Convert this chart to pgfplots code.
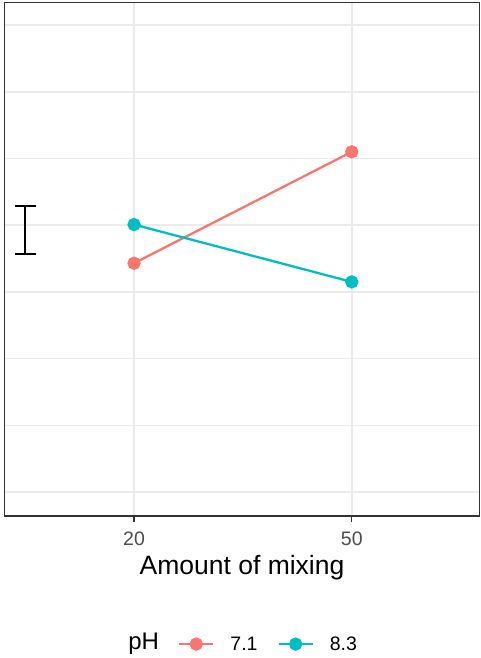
\documentclass[border=0pt]{standalone}
\usepackage{pgfplots}
\pgfplotsset{compat=1.18}
\usepackage{fontspec}
\setmainfont{Liberation Sans}
\definecolor{cred}{HTML}{F8766D}
\definecolor{cteal}{HTML}{00BFC4}
\definecolor{gridc}{HTML}{EBEBEB}
\definecolor{borderc}{HTML}{333333}
\definecolor{tickc}{HTML}{4D4D4D}
\begin{document}
\begin{tikzpicture}
\useasboundingbox (-4.5pt,-142pt) rectangle (476.5pt,516pt);
\begin{axis}[
  at={(0pt,0pt)}, anchor=south west,
  scale only axis, width=475pt, height=513.3pt,
  xmin=2.15, xmax=67.6, ymin=-0.36, ymax=7.336,
  axis line style={draw=borderc, line width=1.1pt},
  xtick={20,50}, ytick={0,1,2,3,4,5,6,7}, yticklabels={},
  tick align=outside, xtick pos=bottom, ytick pos=left,
  major tick length=5.5pt,
  xtick style={draw=borderc, line width=1.1pt},
  ytick style={draw=none},
  xmajorgrids, ymajorgrids,
  major grid style={draw=gridc, line width=1.5pt},
  /pgf/number format/assume math mode=true,
  xticklabel style={font=\fontsize{19.5}{22}\selectfont, text=tickc, inner sep=0pt, yshift=-10pt},
  xlabel={Amount of mixing},
  xlabel style={font=\fontsize{26.5}{30}\selectfont, at={(axis description cs:0.5,0)}, anchor=base, yshift=-58pt, inner sep=0pt},
  legend style={at={(axis description cs:0.3655,-0.2495)}, anchor=west, draw=none, fill=none,
    inner sep=0pt, outer sep=0pt, legend columns=-1,
    nodes={inner sep=0pt, font=\fontsize{19.5}{22}\selectfont},
    column sep=16pt, /tikz/every even column/.append style={column sep=20pt}},
  legend image code/.code={
    \draw[#1, mark=none] (0pt,0pt) -- (34pt,0pt);
    \draw[#1, only marks] plot coordinates {(17pt,0pt)};
  },
  clip=false,
]
\addplot[black, mark=none, forget plot,
  error bars/.cd, y dir=both, y explicit,
  error bar style={draw=black, line width=1.7pt},
  error mark options={draw=black, line width=1.7pt, mark size=10.5pt, rotate=90}]
  coordinates {(5,3.93) +- (0,0.36)};
\addplot[cred, line width=2.3pt, mark=*, mark size=5.5pt, mark options={solid, fill=cred, draw=cred}]
  coordinates {(20,3.43) (50,5.10)};
\addlegendentry{7.1}
\addplot[cteal, line width=2.3pt, mark=*, mark size=5.5pt, mark options={solid, fill=cteal, draw=cteal}]
  coordinates {(20,4.01) (50,3.15)};
\addlegendentry{8.3}
\node[font=\fontsize{24}{28}\selectfont, anchor=center, inner sep=0pt] at (axis description cs:0.293,-0.2495) {pH};
\end{axis}
\end{tikzpicture}
\end{document}
